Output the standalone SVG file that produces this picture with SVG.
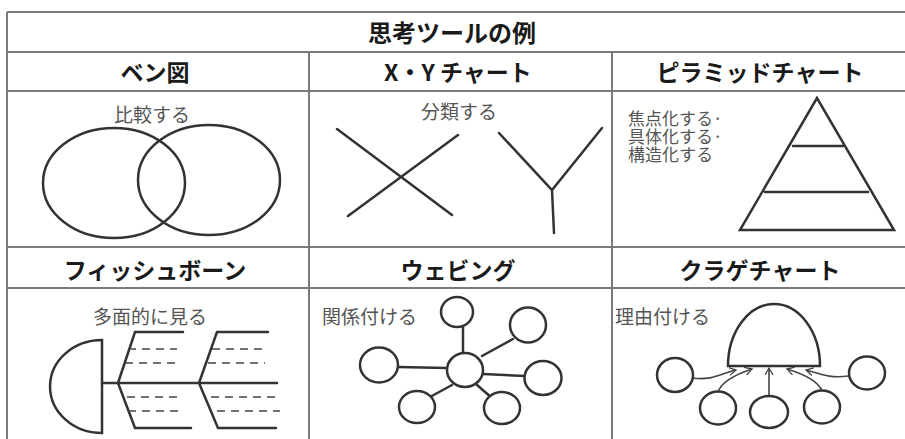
<svg xmlns="http://www.w3.org/2000/svg" width="905" height="439" viewBox="0 0 905 439">
<style>
.grid{stroke:#7a7a7a;stroke-width:2;fill:none}
.ttl{font-family:"Noto Sans CJK JP","Noto Sans",sans-serif;font-weight:bold;font-size:24px;fill:#1a1a1a;text-anchor:middle;dominant-baseline:central}
.hd{font-family:"Noto Sans CJK JP","Noto Sans",sans-serif;font-weight:bold;font-size:23px;fill:#1a1a1a;text-anchor:middle;dominant-baseline:central}
.lb{font-family:"Noto Sans CJK JP","Noto Sans",sans-serif;font-size:19px;fill:#555;dominant-baseline:central}
.lbs{font-family:"Noto Sans CJK JP","Noto Sans",sans-serif;font-size:17px;fill:#555;dominant-baseline:central}
.ln{stroke:#333;stroke-width:2.5;fill:none;stroke-linecap:round}
.sh{stroke:#333;stroke-width:2.5;fill:#fff}
.ds{stroke:#444;stroke-width:1.6;fill:none;stroke-dasharray:8 6}
.ar{stroke:#444;stroke-width:1.6;fill:none}
</style>
<defs>
<marker id="ah" markerUnits="userSpaceOnUse" markerWidth="9" markerHeight="9" refX="7" refY="4" orient="auto">
<path d="M0,0 L7,4 L0,8" fill="none" stroke="#444" stroke-width="1.3"/>
</marker>
</defs>
<rect width="905" height="439" fill="#fff"/>
<g id="grid" class="grid">
<path d="M7,12 H905 M7,12 V439 M7,52 H905 M7,91 H905 M7,247 H905 M7,288 H905 M309,52 V439 M612,52 V439"/>
</g>
<g id="title"><text class="ttl" x="452" y="31">思考ツールの例</text></g>

<g id="venn">
<text class="hd" x="155" y="71">ベン図</text>
<text class="lb" x="152" y="113" text-anchor="middle">比較する</text>
<ellipse class="ln" cx="114" cy="183" rx="71" ry="55"/>
<ellipse class="ln" cx="209" cy="180" rx="71" ry="55"/>
</g>

<g id="xy">
<text class="hd" x="458" y="71">X・Y チャート</text>
<text class="lb" x="459" y="110" text-anchor="middle">分類する</text>
<path class="ln" d="M337,129 L452,215 M458,135 L348,216 M499,133 L552,190 L602,128 M552,190 L554,233"/>
</g>

<g id="pyramid">
<text class="hd" x="760" y="71">ピラミッドチャート</text>
<text class="lbs" x="628" y="117">焦点化する·</text>
<text class="lbs" x="628" y="135">具体化する·</text>
<text class="lbs" x="628" y="153">構造化する</text>
<path class="ln" d="M817,98 L740,230 L894,230 Z M793,146 L843,146 M765,192 L868,192"/>
</g>

<g id="fishbone">
<text class="hd" x="155" y="269">フィッシュボーン</text>
<text class="lb" x="150" y="315" text-anchor="middle">多面的に見る</text>
<path class="sh" d="M102,340 L102,433 A52,46.5 0 0 1 102,340 Z"/>
<path class="ln" d="M102,383 L277,383 M118,383 L135,332 L183,332 M118,383 L135,428 L191,428 M199,383 L217,332 L268,332 M199,383 L218,428 L276,428"/>
<path class="ds" d="M128,349 H177 M125,363 H177 M127,397 H177 M128,411 H182 M212,349 H265 M208,363 H265 M211,397 H275 M217,411 H280"/>
</g>

<g id="webbing">
<text class="hd" x="458" y="269">ウェビング</text>
<text class="lb" x="322" y="315">関係付ける</text>
<path class="ln" d="M463,353 L463,327 M482,356 L513,339 M398,367 L447,368 M483,374 L525,376 M452,385 L430,397 M477,385 L492,398"/>
<ellipse class="sh" cx="457" cy="312" rx="16" ry="15"/>
<ellipse class="sh" cx="528" cy="325" rx="18" ry="17.5"/>
<ellipse class="sh" cx="465" cy="370" rx="18" ry="17"/>
<ellipse class="sh" cx="379" cy="365" rx="19" ry="17.5"/>
<ellipse class="sh" cx="543" cy="378" rx="18.5" ry="17"/>
<ellipse class="sh" cx="417" cy="407" rx="18" ry="16"/>
<ellipse class="sh" cx="502" cy="408" rx="18" ry="16"/>
</g>

<g id="jellyfish">
<text class="hd" x="760" y="269">クラゲチャート</text>
<text class="lb" x="615" y="315">理由付ける</text>
<path class="sh" d="M728,366 A46,62 0 0 1 820,366 Z"/>
<g id="connectors">
<path class="ar" marker-end="url(#ah)" d="M693,378 C712,381 722,373 736,370"/>
<path class="ar" marker-end="url(#ah)" d="M718,392 C722,380 740,373 752,369"/>
<path class="ar" marker-end="url(#ah)" d="M769,396 L769,368"/>
<path class="ar" marker-end="url(#ah)" d="M822,391 C818,380 800,373 787,369"/>
<path class="ar" marker-end="url(#ah)" d="M848,376 C830,379 818,373 806,370"/>
</g>
<ellipse class="sh" cx="675" cy="375" rx="18" ry="17"/>
<ellipse class="sh" cx="867" cy="373" rx="18" ry="16.5"/>
<ellipse class="sh" cx="718" cy="408" rx="18" ry="16.5"/>
<ellipse class="sh" cx="769" cy="412" rx="19" ry="16"/>
<ellipse class="sh" cx="822" cy="407" rx="18" ry="16.5"/>
</g>
</svg>
